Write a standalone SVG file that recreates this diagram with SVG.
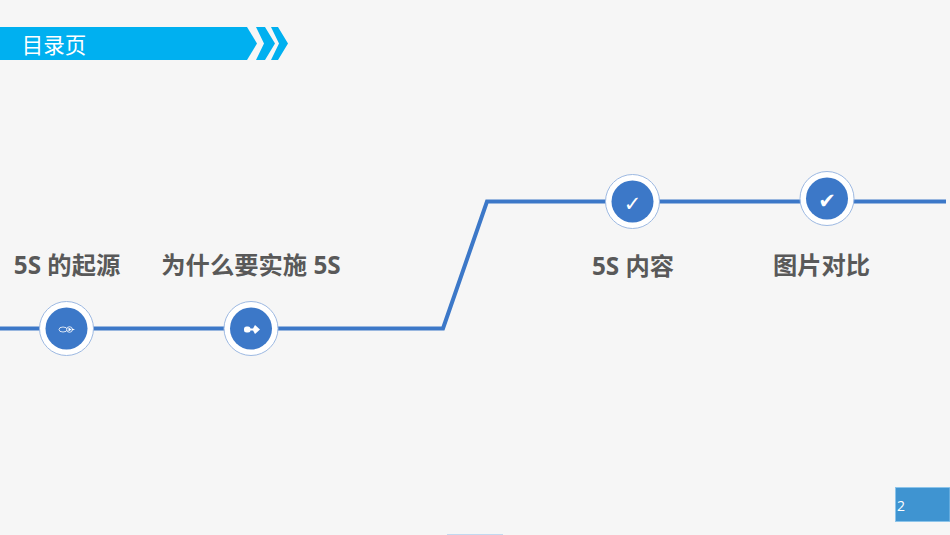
<svg xmlns="http://www.w3.org/2000/svg" width="950" height="535" viewBox="0 0 950 535">
<style>
.lbl{font-family:"Open Sans","Noto Sans CJK SC",sans-serif;font-size:24.3px;font-weight:700;fill:#595959;text-anchor:middle}
.ring{fill:#fff;stroke:#9db9e2;stroke-width:1}
.disc{fill:#3c78c8}
.chk{font-family:"DejaVu Sans",sans-serif;font-size:21px;fill:#fff;text-anchor:middle}
.ban{fill:#00b0f0}
</style>
<rect width="950" height="535" fill="#f6f6f6"/>
<g id="header">
<polygon class="ban" points="0,27 247,27 257,43.500 247,60 0,60"/>
<polygon class="ban" points="256,27 265,27 275,43.500 265,60 256,60 264,43.500"/>
<polygon class="ban" points="271,27 278,27 288,43.500 278,60 271,60 279,43.500"/>
<text x="54" y="52.500" font-family="'Noto Sans CJK SC',sans-serif" font-size="21.500" fill="#fff" text-anchor="middle">目录页</text>
</g>
<g id="connectors">
<polyline points="0,328.500 443,328.500 487,201.500 946,201.500" fill="none" stroke="#3c78c8" stroke-width="4"/>
</g>
<g id="node1">
<circle class="ring" cx="66.500" cy="328.500" r="27"/><circle class="disc" cx="66.500" cy="328.500" r="21"/>
<ellipse cx="63" cy="329.500" rx="4" ry="2.500" fill="none" stroke="#fff" stroke-width="0.800"/>
<circle cx="69.500" cy="329.500" r="2.800" fill="#3c78c8" stroke="#fff" stroke-width="0.800"/>
<polygon points="68.500,327.500 71.500,329.500 68.500,331.500" fill="#fff"/>
<polygon points="72,328.500 75,329.500 72,330.500" fill="#fff"/>
<text class="lbl" x="67" y="274">5S 的起源</text>
</g>
<g id="node2">
<circle class="ring" cx="251" cy="328.500" r="27"/><circle class="disc" cx="251" cy="328.500" r="21"/>
<rect x="244" y="326.500" width="6.500" height="6" rx="2.500" fill="#fff"/>
<rect x="250" y="328.500" width="3" height="2" fill="#fff"/>
<polygon points="255,325 260,329.500 255,334 252.500,329.500" fill="#fff"/>
<text class="lbl" x="251" y="274">为什么要实施 5S</text>
</g>
<g id="node3">
<circle class="ring" cx="632.500" cy="201.500" r="27"/><circle class="disc" cx="632.500" cy="201.500" r="21"/>
<text class="chk" x="632.500" y="210.500">✓</text>
<text class="lbl" x="633" y="275">5S 内容</text>
</g>
<g id="node4">
<circle class="ring" cx="827" cy="198.500" r="27"/><circle class="disc" cx="827" cy="198.500" r="21"/>
<text class="chk" x="827" y="207.500">✔</text>
<text class="lbl" x="821.500" y="274">图片对比</text>
</g>
<g id="page">
<rect x="895.500" y="487.500" width="54.500" height="34" fill="#3f94d1" stroke="#8cc4ea" stroke-width="1"/>
<text x="897" y="511" font-family="'Open Sans',sans-serif" font-size="14" fill="#fff">2</text>
</g>
<rect id="mark" x="447" y="534" width="56" height="1" fill="#c3d9f0"/>
</svg>
